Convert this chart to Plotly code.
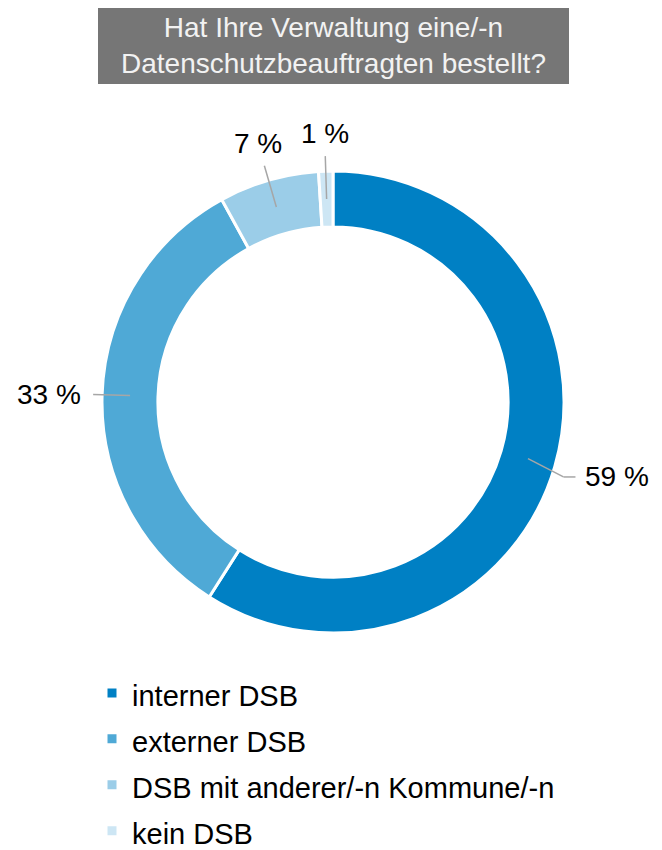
import math
import plotly.graph_objects as go

title_lines = ["Hat Ihre Verwaltung eine/-n", "Datenschutzbeauftragten bestellt?"]
categories = ["interner DSB", "externer DSB", "DSB mit anderer/-n Kommune/-n", "kein DSB"]
values = [59, 33, 7, 1]
colors = ["#0080C4", "#4FA9D6", "#9BCDE8", "#CDE6F4"]

# figure is taller than the 850px window so the legend fits without shrinking the pie;
# the body is set to overflow:hidden so only the top 850px are shown
W, H = 662, 880
cx, cy, R = 333, 402, 231
hole = 0.758
FONT = "Liberation Sans, Arial, sans-serif"

legend_labels = [f'<span style="font-size:29px">{c}</span>' for c in categories]

fig = go.Figure(go.Pie(
    labels=legend_labels, values=values, sort=False, direction="clockwise", rotation=0,
    hole=hole, textinfo="none", hovertext=categories, hoverinfo="text+percent",
    marker=dict(colors=colors, line=dict(color="white", width=3)),
    domain=dict(x=[(cx - R) / W, (cx + R) / W], y=[1 - (cy + R) / H, 1 - (cy - R) / H]),
))

def px(x):
    return x / W

def py(y):
    return 1 - y / H

total = sum(values)
cum = 0
shapes = []
annotations = []
r_mid = R * (1 + hole) / 2
for v in values:
    mid = (cum + v / 2) / total * 2 * math.pi
    cum += v
    dx, dy = math.sin(mid), -math.cos(mid)
    x0, y0 = cx + dx * r_mid, cy + dy * r_mid
    side = abs(dx) > 0.7
    r_end = 240 if side else 246
    x1, y1 = cx + dx * r_end, cy + dy * r_end
    if side and dx > 0:
        y1 += 8  # elbow leader line dips slightly toward the label
    shapes.append(dict(type="line", xref="paper", yref="paper", x0=px(x0), y0=py(y0), x1=px(x1), y1=py(y1),
                       line=dict(color="#A6A6A6", width=1.5)))
    if side:
        if dx > 0:
            shapes.append(dict(type="line", xref="paper", yref="paper", x0=px(x1), y0=py(y1), x1=px(x1 + 12), y1=py(y1),
                               line=dict(color="#A6A6A6", width=1.5)))
            lx, anchor = x1 + 20, "left"
        else:
            lx, anchor = x1 - 10, "right"
        ly = y1
    else:
        lx, ly, anchor = cx + dx * 269, cy + dy * 269, "center"
    annotations.append(dict(xref="paper", yref="paper", x=px(lx), y=py(ly), xanchor=anchor, yanchor="middle",
                            text=f"{round(v / total * 100)} %", showarrow=False,
                            font=dict(family=FONT, size=28, color="black")))

# title box
shapes.append(dict(type="rect", xref="paper", yref="paper", x0=px(98), x1=px(569), y0=py(84), y1=py(8),
                   fillcolor="#767676", line=dict(width=0), layer="below"))
annotations.append(dict(xref="paper", yref="paper", x=px(333), y=py(46), xanchor="center", yanchor="middle",
                        text="<br>".join(title_lines), showarrow=False,
                        font=dict(family=FONT, size=28, color="#F2F2F2")))

fig.update_layout(
    width=W, height=H, margin=dict(l=0, r=0, t=0, b=0),
    paper_bgcolor="white", plot_bgcolor="white",
    shapes=shapes, annotations=annotations,
    showlegend=True,
    legend=dict(x=px(92), y=py(665), xanchor="left", yanchor="top", orientation="v",
                font=dict(family=FONT, size=33, color="black"), bgcolor="rgba(0,0,0,0)"),
)

fig.write_html("out.html", config={"displayModeBar": False},
               post_script="document.body.style.margin='0';document.body.style.overflow='hidden';"
                           "document.documentElement.style.overflow='hidden';")
